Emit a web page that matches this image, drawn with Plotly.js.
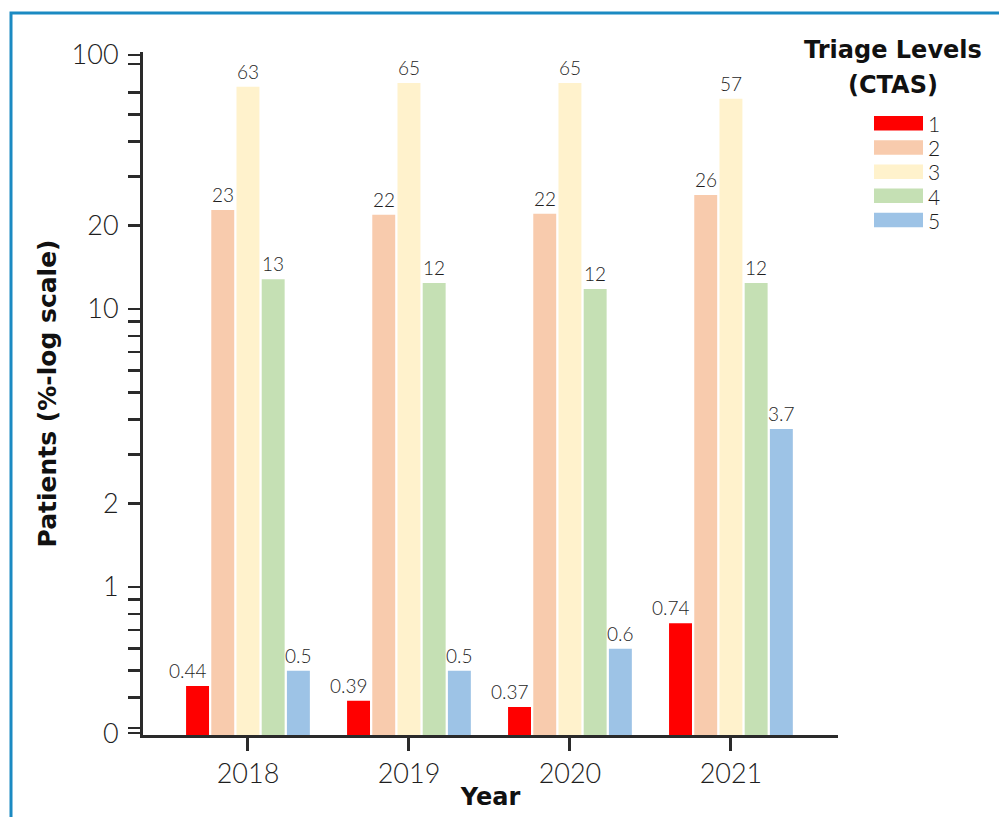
<!DOCTYPE html>
<html><head><meta charset="utf-8">
<script src="https://cdn.plot.ly/plotly-3.0.1.min.js"></script>
<style>html,body{margin:0;padding:0;background:#fff}#chart{width:999px;height:817px}</style>
</head><body><div id="chart"></div>
<script>
// ---- data ----
const years = ['2018', '2019', '2020', '2021'];
const levels = ['1', '2', '3', '4', '5'];
const level1 = [0.44, 0.39, 0.37, 0.74];
const level2 = [22.7, 21.8, 22, 25.7];
const level3 = [63, 65, 65, 57];
const level4 = [12.8, 12.4, 11.8, 12.4];
const level5 = [0.5, 0.5, 0.6, 3.7];
const colors = ['#FF0000', '#F8CBAD', '#FFF2CC', '#C5E0B4', '#9DC3E6'];
const yTickVals = [0.298, 0.311, 0.4, 0.5, 0.6, 0.7, 0.8, 0.9, 1, 2, 3, 4, 5, 6, 7, 8, 9, 10, 20, 30, 40, 50, 60, 76, 82];
const yTickText = ['0', '', '', '', '', '', '', '', '1', '2', '', '', '', '', '', '', '', '10', '20', '', '', '', '', '', '100'];
const legendTitle = ['Triage Levels', '(CTAS)'];

const series = [level1, level2, level3, level4, level5];

// ---- geometry helpers (plot area in px) ----
const W = 999, H = 817;
const M = {l: 143, r: 161, t: 52, b: 82};
const PW = W - M.l - M.r, PH = H - M.t - M.b;
const px = x => (x - M.l) / PW;
const py = y => (H - M.b - y) / PH;

const FONT = 'Lato, "Open Sans", sans-serif';
const BOLD = '"DejaVu Sans", Lato, sans-serif';
const INK = '#1e1e1e';
const BARGAP = 0.217, GROUPGAP = 0.09;
const slot = (1 - BARGAP) / series.length;
const halfBar = slot * (1 - GROUPGAP) / 2;

const traces = series.map((vals, i) => ({
  type: 'bar',
  name: levels[i],
  x: years,
  y: vals,
  marker: {color: colors[i], line: {width: 0}},
  showlegend: false,
  hoverinfo: 'x+y+name'
}));

const shapes = [];
const annotations = [];

// value labels (level 1 labels are right-aligned to the bar's right edge, as in the source)
series.forEach((vals, i) => {
  vals.forEach((v, j) => {
    const centre = j + (i - (series.length - 1) / 2) * slot;
    const right = i === 0;
    annotations.push({xref: 'x', yref: 'y',
      x: right ? centre + halfBar : centre,
      y: Math.log10(v),
      xanchor: right ? 'right' : 'center', yanchor: 'bottom', yshift: 2,
      showarrow: false, text: String(Number(v.toPrecision(2))),
      font: {family: FONT, size: 19, color: INK, weight: 300}});
  });
});

// custom legend (wide swatches) built from levels/colors
levels.forEach((lv, i) => {
  const top = 116 + i * 24.2;
  shapes.push({type: 'rect', xref: 'paper', yref: 'paper',
    x0: px(874), x1: px(923), y0: py(top + 14.5), y1: py(top),
    fillcolor: colors[i], line: {width: 0}});
  annotations.push({xref: 'paper', yref: 'paper', x: px(926), y: py(top + 7.5),
    xanchor: 'left', yanchor: 'middle', showarrow: false, text: lv,
    font: {family: FONT, size: 21, color: INK, weight: 300}});
});
legendTitle.forEach((t, i) => {
  annotations.push({xref: 'paper', yref: 'paper', x: px(893), y: py(50 + i * 35),
    xanchor: 'center', yanchor: 'middle', showarrow: false,
    text: '<b>' + t + '</b>',
    font: {family: BOLD, size: 24, color: '#111111'}});
});

// blue frame
shapes.push({type: 'rect', xref: 'paper', yref: 'paper', layer: 'above',
  x0: px(11), x1: px(1015), y0: py(13), y1: py(840),
  line: {color: '#1B8AC2', width: 3}, fillcolor: 'rgba(0,0,0,0)'});

const layout = {
  width: W, height: H,
  margin: M,
  paper_bgcolor: '#ffffff', plot_bgcolor: '#ffffff',
  font: {family: FONT, color: INK},
  barmode: 'group',
  bargap: BARGAP,
  bargroupgap: GROUPGAP,
  xaxis: {
    type: 'category',
    range: [-0.652, 3.665],
    showgrid: false, zeroline: false,
    showline: true, linecolor: '#2a2a2a', linewidth: 3,
    ticks: 'outside', ticklen: 13, tickwidth: 3, tickcolor: '#2a2a2a',
    tickfont: {family: FONT, size: 27, color: INK, weight: 300},
    title: {text: '<b>Year</b>', font: {family: BOLD, size: 24, color: '#111111'}, standoff: 0},
    automargin: false
  },
  yaxis: {
    type: 'log',
    range: [Math.log10(0.2935), Math.log10(84)],
    showgrid: false, zeroline: false,
    showline: true, linecolor: '#2a2a2a', linewidth: 3,
    ticks: 'outside', ticklen: 12, tickwidth: 2.5, tickcolor: '#2a2a2a',
    tickmode: 'array', tickvals: yTickVals, ticktext: yTickText,
    tickfont: {family: FONT, size: 27, color: INK, weight: 300},
    ticklabelstandoff: 4,
    title: {text: '<b>Patients (%-log scale)</b>', font: {family: BOLD, size: 25, color: '#111111'}, standoff: 8},
    automargin: false
  },
  shapes: shapes,
  annotations: annotations
};

Plotly.newPlot('chart', traces, layout, {displayModeBar: false, staticPlot: true});
</script>
</body></html>
